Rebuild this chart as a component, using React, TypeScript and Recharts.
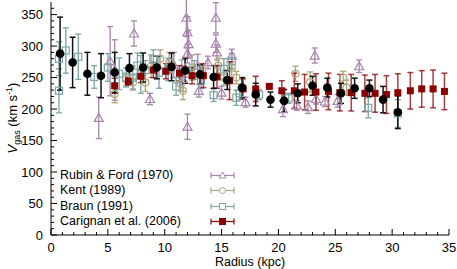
import { ComposedChart, Scatter, ErrorBar, XAxis, YAxis, Legend } from "recharts";

// Rubin & Ford (1970)
const RUBIN_R = [4.2, 5.2, 5.6, 7.3, 8.7, 10.8, 11.6, 11.9, 12.0, 12.1, 12.0, 11.8, 12.0, 12.9, 13.0, 13.8, 14.5, 14.5, 14.6, 15.0, 15.9, 17.1, 20.4, 21.6, 22.6, 23.2, 23.3, 24.1, 25.2, 27.1];
const RUBIN_V = [186, 276, 262, 320, 216, 270, 248, 345, 322, 303, 288, 265, 172, 269, 229, 274, 345, 304, 290, 226, 285, 211, 200, 206, 203, 285, 216, 212, 213, 268];
const RUBIN_E = [33, 55, 48, 20, 9, 20, 20, 30, 25, 22, 15, 14, 20, 18, 10, 10, 24, 14, 12, 10, 10, 8, 12, 8, 10, 12, 8, 8, 10, 10];

// Kent (1989)
const KENT_R = [5.6, 6.6, 7.2, 8.3, 8.8, 9.6, 10.4, 11.4, 11.6, 12.4, 13.3, 14.7, 15.2, 15.9, 16.3, 21.5, 22.8, 25.7, 26.0];
const KENT_V = [224, 247, 242, 242, 268, 280, 274, 240, 229, 266, 262, 269, 250, 266, 250, 256, 243, 250, 234];
const KENT_E = [14, 10, 12, 14, 18, 14, 16, 12, 14, 20, 10, 12, 12, 16, 10, 12, 16, 10, 12];

// Braun (1991)
const BRAUN_R = [0.7, 0.7, 1.3, 2.4, 3.8, 5.0, 6.0, 6.6, 7.2, 7.6, 7.9, 8.3, 9.0, 9.5, 10.3, 11.0, 11.5, 12.6, 13.2, 14.3, 15.2, 15.9, 16.3, 16.6, 18.3, 20.9, 27.9, 30.5];
const BRAUN_V = [280, 229, 293, 283, 251, 266, 256, 250, 250, 269, 255, 262, 279, 258, 263, 236, 258, 262, 245, 222, 264, 276, 218, 225, 223, 217, 202, 193];
const BRAUN_E = [27, 35, 36, 36, 18, 22, 25, 15, 18, 20, 30, 15, 15, 25, 18, 14, 20, 15, 12, 10, 16, 12, 12, 10, 8, 8, 16, 22];

// Carignan et al. (2006)
const CARIGNAN_R = [5.6, 6.8, 7.9, 9.0, 10.1, 11.3, 12.4, 13.4, 14.6, 15.7, 16.9, 18.0, 19.2, 20.3, 21.4, 22.3, 23.3, 24.4, 25.4, 26.4, 27.6, 28.5, 29.5, 30.5, 31.6, 32.6, 33.6, 34.6];
const CARIGNAN_V = [237, 244, 252, 262, 260, 257, 253, 253, 251, 245, 232, 232, 236, 229, 229, 227, 227, 228, 226, 226, 225, 225, 223, 226, 229, 232, 232, 228];
const CARIGNAN_E = [12, 6, 10, 12, 12, 12, 13, 19, 18, 30, 16, 20, 3, 16, 28, 28, 29, 29, 29, 29, 29, 30, 30, 30, 29, 29, 30, 29];

// binned average (black)
const MEAN_R = [0.8, 1.9, 3.2, 4.4, 5.6, 6.9, 8.1, 9.3, 10.6, 11.8, 13.1, 14.3, 15.5, 16.8, 18.0, 19.3, 20.5, 21.7, 23.0, 24.3, 25.5, 26.7, 28.0, 29.2, 30.5];
const MEAN_V = [288, 274, 256, 253, 258, 265, 266, 266, 267, 261, 255, 251, 246, 234, 223, 215, 213, 225, 237, 234, 225, 233, 233, 215, 195];
const MEAN_E = [58, 40, 34, 35, 32, 23, 23, 18, 22, 20, 15, 18, 15, 16, 18, 12, 18, 15, 15, 15, 16, 16, 13, 21, 26];

const PURPLE = "#a884ac";
const OLIVE = "#aca67c";
const TEAL = "#7aa6a6";
const RED = "#8b0000";

const X_TICKS: number[] = [];
for (let i = 0; i <= 35; i++) X_TICKS.push(i);
const Y_TICKS: number[] = [];
for (let i = 0; i <= 360; i += 10) Y_TICKS.push(i);

const toPoints = (r: number[], v: number[], e: number[]) =>
  r.map((x, i) => ({ r: x, v: v[i], e: e[i] }));

const triangle = (color: string) => (p: any) => (
  <path
    d={`M${p.cx},${p.cy - 4.5}L${p.cx + 4.5},${p.cy + 3.5}L${p.cx - 4.5},${p.cy + 3.5}Z`}
    fill="none"
    stroke={color}
    strokeWidth={1.2}
  />
);
const openCircle = (color: string) => (p: any) => (
  <circle cx={p.cx} cy={p.cy} r={3.5} fill="none" stroke={color} strokeWidth={1.2} />
);
const openSquare = (color: string) => (p: any) => (
  <rect x={p.cx - 3.5} y={p.cy - 3.5} width={7} height={7} fill="none" stroke={color} strokeWidth={1.2} />
);
const fullSquare = (color: string) => (p: any) => (
  <rect x={p.cx - 3.5} y={p.cy - 3.5} width={7} height={7} fill={color} />
);
const fullCircle = (color: string) => (p: any) => <circle cx={p.cx} cy={p.cy} r={4.3} fill={color} />;

const XTick = ({ x, y, payload, top }: any) => {
  const major = payload.value % 5 === 0;
  const len = major ? 6 : 3;
  return (
    <g>
      <line x1={x} x2={x} y1={y} y2={top ? y + len : y - len} stroke="#000" />
      {!top && major && (
        <text x={x} y={y + 16.5} textAnchor="middle" fontSize={13} fill="#000">
          {payload.value}
        </text>
      )}
    </g>
  );
};

const YTick = ({ x, y, payload, right }: any) => {
  const major = payload.value % 50 === 0;
  const len = major ? 6 : 3;
  return (
    <g>
      <line x1={x} x2={right ? x - len : x + len} y1={y} y2={y} stroke="#000" />
      {!right && major && (
        <text x={x - 8} y={y + 4.5} textAnchor="end" fontSize={13} fill="#000">
          {payload.value}
        </text>
      )}
    </g>
  );
};

const YLabel = () => (
  <text transform="translate(17,118) rotate(-90)" textAnchor="middle" fontSize={13} fill="#000">
    <tspan fontStyle="italic">V</tspan>
    <tspan dy={3} fontSize={9}>gas</tspan>
    <tspan dy={-3}> (km s</tspan>
    <tspan dy={-5} fontSize={9}>-1</tspan>
    <tspan dy={5}>)</tspan>
  </text>
);

const LEGEND_ROWS = [
  { name: "Rubin & Ford (1970)", color: PURPLE, mark: "tri" },
  { name: "Kent (1989)", color: OLIVE, mark: "circ" },
  { name: "Braun (1991)", color: TEAL, mark: "sq" },
  { name: "Carignan et al. (2006)", color: RED, mark: "fsq" },
];

const LegendBox = () => (
  <div style={{ fontSize: 12.5, lineHeight: "15.3px" }}>
    {LEGEND_ROWS.map((row) => (
      <div key={row.name} style={{ display: "flex", height: 15.3, alignItems: "center" }}>
        <span style={{ width: 150, color: "#000" }}>{row.name}</span>
        <svg width={26} height={15}>
          <line x1={1} x2={24} y1={7.5} y2={7.5} stroke={row.color} strokeWidth={1.2} />
          <line x1={1} x2={1} y1={4.5} y2={10.5} stroke={row.color} strokeWidth={1.2} />
          <line x1={24} x2={24} y1={4.5} y2={10.5} stroke={row.color} strokeWidth={1.2} />
          {row.mark === "tri" && <path d="M12.5,4L16,10H9Z" fill="white" stroke={row.color} />}
          {row.mark === "circ" && <circle cx={12.5} cy={7.5} r={3} fill="white" stroke={row.color} />}
          {row.mark === "sq" && <rect x={9.5} y={4.5} width={6} height={6} fill="white" stroke={row.color} />}
          {row.mark === "fsq" && <rect x={9} y={4} width={7} height={7} fill={row.color} />}
        </svg>
      </div>
    ))}
  </div>
);

export default function App() {
  return (
    <div style={{ position: "absolute", left: 0, top: 0, fontFamily: "'Liberation Sans', Arial, sans-serif" }}>
      <ComposedChart width={457} height={269} margin={{ top: 2, right: 8, bottom: 0, left: 0 }}>
        <XAxis
          dataKey="r"
          type="number"
          domain={[0, 35]}
          ticks={X_TICKS}
          interval={0}
          height={34}
          tickSize={0}
          tickMargin={0}
          tickLine={false}
          tick={<XTick />}
          axisLine={{ stroke: "#000" }}
          allowDataOverflow
          label={{ value: "Radius (kpc)", position: "insideBottom", offset: 3, fontSize: 12.5, fill: "#000" }}
        />
        <XAxis
          xAxisId="top"
          orientation="top"
          type="number"
          domain={[0, 35]}
          ticks={X_TICKS}
          interval={0}
          height={0}
          tickSize={0}
          tickMargin={0}
          tickLine={false}
          tick={<XTick top />}
          axisLine={{ stroke: "#000" }}
        />
        <YAxis
          dataKey="v"
          type="number"
          domain={[0, 370]}
          ticks={Y_TICKS}
          interval={0}
          width={51}
          tickSize={0}
          tickMargin={0}
          tickLine={false}
          tick={<YTick />}
          axisLine={{ stroke: "#000" }}
          allowDataOverflow
          label={<YLabel />}
        />
        <YAxis
          yAxisId="right"
          orientation="right"
          type="number"
          domain={[0, 370]}
          ticks={Y_TICKS}
          interval={0}
          width={0}
          tickSize={0}
          tickMargin={0}
          tickLine={false}
          tick={<YTick right />}
          axisLine={{ stroke: "#000" }}
        />
        <Legend
          layout="vertical"
          align="center"
          verticalAlign="middle"
          wrapperStyle={{ left: 60, top: 168, width: 190 }}
          content={() => <LegendBox />}
        />
        <Scatter name="Rubin & Ford (1970)" data={toPoints(RUBIN_R, RUBIN_V, RUBIN_E)} shape={triangle(PURPLE)} isAnimationActive={false}>
          <ErrorBar dataKey="e" direction="y" width={3} stroke={PURPLE} strokeWidth={1.3} />
        </Scatter>
        <Scatter name="Kent (1989)" data={toPoints(KENT_R, KENT_V, KENT_E)} shape={openCircle(OLIVE)} isAnimationActive={false}>
          <ErrorBar dataKey="e" direction="y" width={3} stroke={OLIVE} strokeWidth={1.3} />
        </Scatter>
        <Scatter name="Braun (1991)" data={toPoints(BRAUN_R, BRAUN_V, BRAUN_E)} shape={openSquare(TEAL)} isAnimationActive={false}>
          <ErrorBar dataKey="e" direction="y" width={3} stroke={TEAL} strokeWidth={1.3} />
        </Scatter>
        <Scatter name="Carignan et al. (2006)" data={toPoints(CARIGNAN_R, CARIGNAN_V, CARIGNAN_E)} shape={fullSquare(RED)} isAnimationActive={false}>
          <ErrorBar dataKey="e" direction="y" width={3} stroke={RED} strokeOpacity={0.75} strokeWidth={1.5} />
        </Scatter>
        <Scatter name="mean" data={toPoints(MEAN_R, MEAN_V, MEAN_E)} shape={fullCircle("#000")} isAnimationActive={false}>
          <ErrorBar dataKey="e" direction="y" width={3} stroke="#111" strokeWidth={1.5} />
        </Scatter>
      </ComposedChart>
    </div>
  );
}
